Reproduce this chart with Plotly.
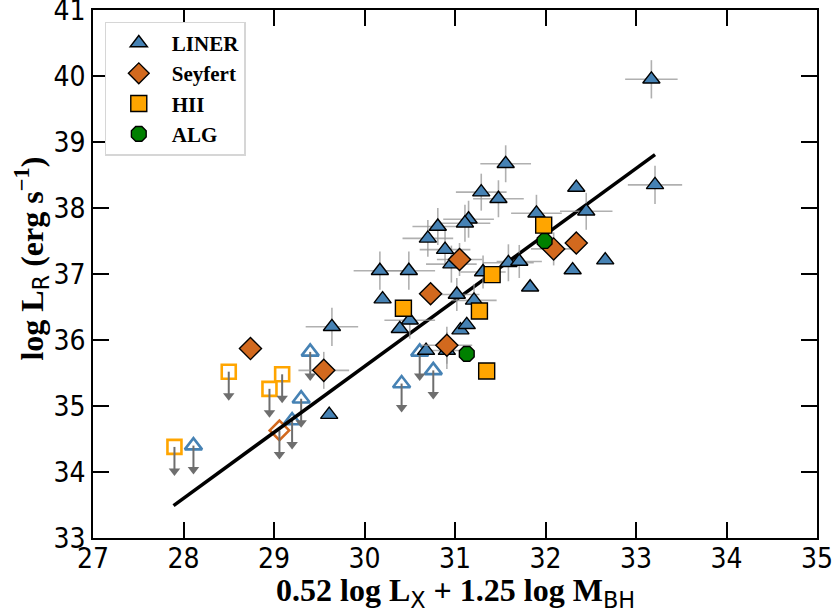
import plotly.graph_objects as go

# ---------------- data ----------------
liner_x = [33.17, 33.21, 31.56, 31.29, 31.48, 32.34, 32.45, 31.90, 32.66, 32.30,
           31.83, 31.59, 31.71, 31.31, 31.15, 31.11, 30.81, 30.70, 30.89, 30.96,
           30.17, 30.49, 30.20, 31.02, 31.21, 30.50, 30.39, 31.06, 31.13, 29.64,
           30.68, 30.91, 29.61]
liner_y = [39.95, 38.35, 38.67, 38.24, 38.14, 38.31, 37.95, 37.92, 37.21, 37.06,
           36.80, 37.17, 37.19, 37.03, 37.83, 37.77, 37.72, 37.54, 37.37, 37.15,
           37.05, 37.05, 36.62, 36.69, 36.60, 36.30, 36.17, 36.15, 36.23, 36.20,
           35.84, 35.84, 34.87]
liner_ex = [0.29, 0.30, 0.28, 0.28, 0.28, 0.0, 0.29, 0.28, 0.0, 0.0,
            0.0, 0.28, 0.25, 0.25, 0.28, 0.28, 0.28, 0.28, 0.28, 0.28,
            0.29, 0.29, 0.0, 0.25, 0.25, 0.28, 0.0, 0.0, 0.0, 0.29,
            0.0, 0.28, 0.0]
liner_ey = [0.29, 0.29, 0.28, 0.28, 0.28, 0.0, 0.28, 0.28, 0.0, 0.0,
            0.0, 0.28, 0.25, 0.25, 0.28, 0.28, 0.28, 0.28, 0.28, 0.28,
            0.29, 0.29, 0.0, 0.25, 0.25, 0.28, 0.0, 0.0, 0.0, 0.29,
            0.0, 0.28, 0.0]

seyfert_x = [32.09, 32.34, 31.05, 30.73, 30.91, 28.74, 29.55]
seyfert_y = [37.38, 37.47, 37.22, 36.70, 35.92, 35.87, 35.54]
seyfert_ex = [0.25, 0.0, 0.25, 0.0, 0.28, 0.0, 0.28]
seyfert_ey = [0.25, 0.0, 0.25, 0.0, 0.28, 0.0, 0.28]

hii_x = [31.98, 31.41, 30.43, 31.27, 31.35]
hii_y = [37.74, 36.99, 36.48, 36.44, 35.53]

alg_x = [31.99, 31.13]
alg_y = [37.50, 35.79]

# upper limits (open symbols)
liner_lim_x = [29.40, 29.30, 29.20, 28.11, 30.61, 30.76, 30.41]
liner_lim_y = [35.82, 35.11, 34.78, 34.40, 35.82, 35.54, 35.34]
seyfert_lim_x = [29.06]
seyfert_lim_y = [34.63]
hii_lim_x = [28.50, 29.09, 28.95, 27.90]
hii_lim_y = [35.52, 35.48, 35.26, 34.38]

# best-fit relation
fit_x = [27.89, 33.21]
fit_slope = 1.0
fit_intercept = 5.60

x_ticks = [27, 28, 29, 30, 31, 32, 33, 34, 35]
y_ticks = [33, 34, 35, 36, 37, 38, 39, 40, 41]

# ---------------- style ----------------
C_LINER = "#4682B4"
C_SEY = "#D2691E"
C_HII = "#FFA500"
C_ALG = "#008000"
ERR_C = "rgba(150,150,150,0.75)"
ARROW_C = "#6e6e6e"
ARROW_LEN = 0.44
HEAD_OFF = 0.076

fig = go.Figure()


def add_filled(name, xs, ys, color, symbol, size, ex=None, ey=None):
    kw = {}
    if ex is not None:
        kw["error_x"] = dict(type="data", array=ex, color=ERR_C, thickness=1.6, width=0)
        kw["error_y"] = dict(type="data", array=ey, color=ERR_C, thickness=1.6, width=0)
    fig.add_trace(go.Scatter(
        x=xs, y=ys, mode="markers", name=name,
        marker=dict(symbol=symbol, size=size, color=color,
                    line=dict(color="black", width=1.4)),
        **kw))


def add_limits(xs, ys, color, symbol, size):
    fig.add_trace(go.Scatter(
        x=xs, y=ys, mode="markers", showlegend=False, hoverinfo="skip",
        marker=dict(symbol=symbol, size=size, color=color,
                    line=dict(color=color, width=2.6))))
    sx, sy = [], []
    for x, y in zip(xs, ys):
        sx += [x, x, None]
        sy += [y, y - ARROW_LEN + HEAD_OFF, None]
    fig.add_trace(go.Scatter(x=sx, y=sy, mode="lines", showlegend=False,
                             hoverinfo="skip", line=dict(color=ARROW_C, width=2)))
    fig.add_trace(go.Scatter(
        x=xs, y=[y - ARROW_LEN + HEAD_OFF for y in ys], mode="markers",
        showlegend=False, hoverinfo="skip",
        marker=dict(symbol="triangle-down", size=10, color=ARROW_C,
                    line=dict(width=0))))


# upper limits first (underneath)
add_limits(liner_lim_x, liner_lim_y, C_LINER, "triangle-up-open", 15)
add_limits(seyfert_lim_x, seyfert_lim_y, C_SEY, "diamond-open", 15)
add_limits(hii_lim_x, hii_lim_y, C_HII, "square-open", 14)

# fit line
fig.add_trace(go.Scatter(
    x=fit_x, y=[fit_slope * v + fit_intercept for v in fit_x], mode="lines",
    showlegend=False, hoverinfo="skip", line=dict(color="black", width=3.5)))

add_filled("LINER", liner_x, liner_y, C_LINER, "triangle-up", 15, liner_ex, liner_ey)
add_filled("Seyfert", seyfert_x, seyfert_y, C_SEY, "diamond", 17, seyfert_ex, seyfert_ey)
add_filled("HII", hii_x, hii_y, C_HII, "square", 16)
add_filled("ALG", alg_x, alg_y, C_ALG, "octagon", 16)

axis_common = dict(
    showline=True, linecolor="black", linewidth=1.5, mirror="ticks",
    ticks="inside", ticklen=16, tickwidth=1.5, tickcolor="black",
    showgrid=False, zeroline=False, automargin=False,
    ticklabeloverflow="allow",
    tickfont=dict(family="DejaVu Sans Condensed, DejaVu Sans", size=28, color="black"),
)

fig.update_xaxes(range=[27, 35], tickvals=x_ticks,
                 ticktext=[str(v) for v in x_ticks], ticklabelstandoff=-5,
                 **axis_common)
fig.update_yaxes(range=[33, 41], tickvals=y_ticks,
                 ticktext=[str(v) for v in y_ticks], **axis_common)

sub_style = "font-family:DejaVu Sans;font-weight:normal"
title_font = dict(family="Liberation Serif", size=32, color="black", weight="bold")
fig.add_annotation(
    xref="paper", yref="paper", x=0.5, y=-0.104, xanchor="center", yanchor="middle",
    showarrow=False, font=title_font,
    text=("0.52 log L<sub><span style='%s'>X</span></sub> + 1.25 log "
          "M<sub><span style='%s'>BH</span></sub>") % (sub_style, sub_style))
fig.add_annotation(
    xref="paper", yref="paper", x=-0.085, y=0.53, xanchor="center", yanchor="middle",
    showarrow=False, textangle=-90, font=title_font,
    text=("log L<sub><span style='%s'>R</span></sub> (erg s<sup>\u22121</sup>)") % sub_style)

fig.update_layout(
    width=837, height=609,
    margin=dict(l=93, r=20, t=10, b=71, autoexpand=False),
    paper_bgcolor="white", plot_bgcolor="white",
    showlegend=True,
    legend=dict(
        x=0.016, y=0.978, xanchor="left", yanchor="top",
        bgcolor="white", bordercolor="#d6d6d6", borderwidth=1.2,
        font=dict(family="Liberation Serif", size=21, color="black", weight="bold"),
        itemwidth=56,
    ),
)

fig.write_html("out.html", config={"displayModeBar": False},
               post_script="document.body.style.margin='0px';")
